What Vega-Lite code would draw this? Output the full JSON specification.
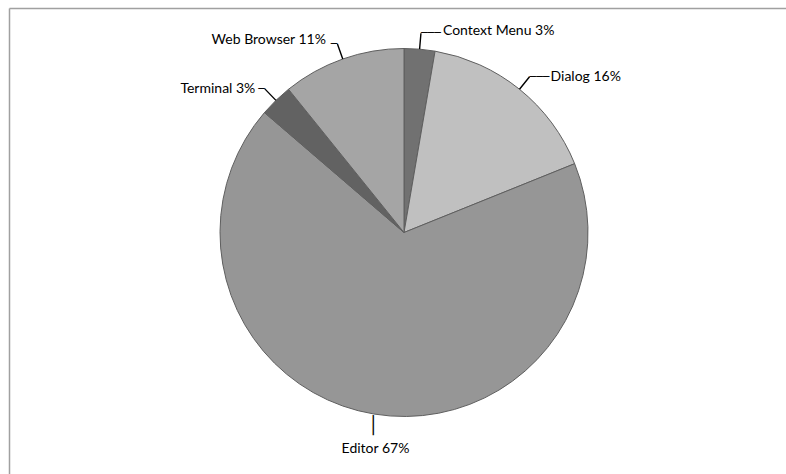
{
  "$schema": "https://vega.github.io/schema/vega-lite/v6.json",
  "width": 777,
  "height": 466,
  "autosize": "none",
  "padding": {"left": 9, "top": 8, "right": 0, "bottom": 0},
  "background": "white",
  "config": {
    "view": {"stroke": null},
    "axis": {"domainColor": "#a0a0a0", "domainWidth": 1.5, "ticks": false, "labels": false, "grid": false, "title": null}
  },
  "data": {
    "values": [
      {"category": "Context Menu", "value": 2.7, "label": "Context Menu 3%", "order": 1},
      {"category": "Dialog", "value": 16.2, "label": "Dialog 16%", "order": 2},
      {"category": "Editor", "value": 67.4, "label": "Editor 67%", "order": 3},
      {"category": "Terminal", "value": 2.9, "label": "Terminal 3%", "order": 4},
      {"category": "Web Browser", "value": 10.8, "label": "Web Browser 11%", "order": 5}
    ]
  },
  "layer": [
    {
      "mark": {"type": "point", "opacity": 0},
      "encoding": {
        "x": {"field": "value", "type": "quantitative", "axis": {"orient": "top"}},
        "y": {"field": "order", "type": "quantitative", "axis": {"orient": "left"}}
      }
    },
    {
      "mark": {"type": "arc", "radius": 184, "stroke": "#5f5f5f", "strokeWidth": 1},
      "encoding": {
        "theta": {"field": "value", "type": "quantitative", "stack": true},
        "order": {"field": "order", "type": "quantitative"},
        "x": {"value": 395},
        "y": {"value": 224.5},
        "color": {
          "field": "category",
          "type": "nominal",
          "scale": {
            "domain": ["Context Menu", "Dialog", "Editor", "Terminal", "Web Browser"],
            "range": ["#717171", "#c0c0c0", "#969696", "#626262", "#a5a5a5"]
          },
          "legend": null
        }
      }
    },
    {
      "mark": {"type": "arc", "radius": 200, "radius2": 184, "padAngle": 3.1416, "fillOpacity": 0, "stroke": "#000000", "strokeWidth": 1.4},
      "encoding": {
        "theta": {"field": "value", "type": "quantitative", "stack": true},
        "order": {"field": "order", "type": "quantitative"},
        "x": {"value": 395},
        "y": {"value": 224.5},
        "strokeOpacity": {"condition": {"test": "datum.category === 'Editor'", "value": 0}, "value": 1}
      }
    },
    {
      "mark": {"type": "text", "radius": 184, "align": "center", "baseline": "alphabetic", "dx": -1, "dy": 17, "font": "DejaVu Sans", "fontSize": 17, "color": "#000000"},
      "encoding": {
        "theta": {"field": "value", "type": "quantitative", "stack": true},
        "order": {"field": "order", "type": "quantitative"},
        "x": {"value": 395},
        "y": {"value": 224.5},
        "text": {"condition": {"test": "datum.category === 'Editor'", "value": "│"}, "value": ""}
      }
    },
    {
      "mark": {"type": "text", "radius": 200, "align": "left", "baseline": "middle", "font": "DejaVu Sans", "fontSize": 11, "color": "#000000"},
      "encoding": {
        "theta": {"field": "value", "type": "quantitative", "stack": true},
        "order": {"field": "order", "type": "quantitative"},
        "x": {"value": 395},
        "y": {"value": 224.5},
        "text": {"condition": {"test": "datum.category === 'Context Menu' || datum.category === 'Dialog'", "value": "───"}, "value": ""}
      }
    },
    {
      "mark": {"type": "text", "radius": 200, "align": "right", "baseline": "middle", "font": "DejaVu Sans", "fontSize": 11, "color": "#000000"},
      "encoding": {
        "theta": {"field": "value", "type": "quantitative", "stack": true},
        "order": {"field": "order", "type": "quantitative"},
        "x": {"value": 395},
        "y": {"value": 224.5},
        "text": {"condition": {"test": "datum.category === 'Terminal' || datum.category === 'Web Browser'", "value": "─"}, "value": ""}
      }
    },
    {
      "mark": {"type": "text", "radius": 200, "align": "left", "baseline": "alphabetic", "dx": 22, "dy": 1.8, "font": "Lato", "fontSize": 14, "color": "#000000"},
      "encoding": {
        "theta": {"field": "value", "type": "quantitative", "stack": true},
        "order": {"field": "order", "type": "quantitative"},
        "x": {"value": 395},
        "y": {"value": 224.5},
        "text": {"condition": {"test": "datum.category === 'Context Menu'", "field": "label", "type": "nominal"}, "value": ""}
      }
    },
    {
      "mark": {"type": "text", "radius": 200, "align": "left", "baseline": "alphabetic", "dx": 21, "dy": 4.5, "font": "Lato", "fontSize": 14, "color": "#000000"},
      "encoding": {
        "theta": {"field": "value", "type": "quantitative", "stack": true},
        "order": {"field": "order", "type": "quantitative"},
        "x": {"value": 395},
        "y": {"value": 224.5},
        "text": {"condition": {"test": "datum.category === 'Dialog'", "field": "label", "type": "nominal"}, "value": ""}
      }
    },
    {
      "mark": {"type": "text", "radius": 200, "align": "center", "baseline": "alphabetic", "dx": 4, "dy": 23.5, "font": "Lato", "fontSize": 14, "color": "#000000"},
      "encoding": {
        "theta": {"field": "value", "type": "quantitative", "stack": true},
        "order": {"field": "order", "type": "quantitative"},
        "x": {"value": 395},
        "y": {"value": 224.5},
        "text": {"condition": {"test": "datum.category === 'Editor'", "field": "label", "type": "nominal"}, "value": ""}
      }
    },
    {
      "mark": {"type": "text", "radius": 200, "align": "right", "baseline": "alphabetic", "dx": -9.5, "dy": 4.5, "font": "Lato", "fontSize": 14, "color": "#000000"},
      "encoding": {
        "theta": {"field": "value", "type": "quantitative", "stack": true},
        "order": {"field": "order", "type": "quantitative"},
        "x": {"value": 395},
        "y": {"value": 224.5},
        "text": {"condition": {"test": "datum.category === 'Terminal'", "field": "label", "type": "nominal"}, "value": ""}
      }
    },
    {
      "mark": {"type": "text", "radius": 200, "align": "right", "baseline": "alphabetic", "dx": -11.5, "dy": 0.5, "font": "Lato", "fontSize": 14, "color": "#000000"},
      "encoding": {
        "theta": {"field": "value", "type": "quantitative", "stack": true},
        "order": {"field": "order", "type": "quantitative"},
        "x": {"value": 395},
        "y": {"value": 224.5},
        "text": {"condition": {"test": "datum.category === 'Web Browser'", "field": "label", "type": "nominal"}, "value": ""}
      }
    }
  ]
}
